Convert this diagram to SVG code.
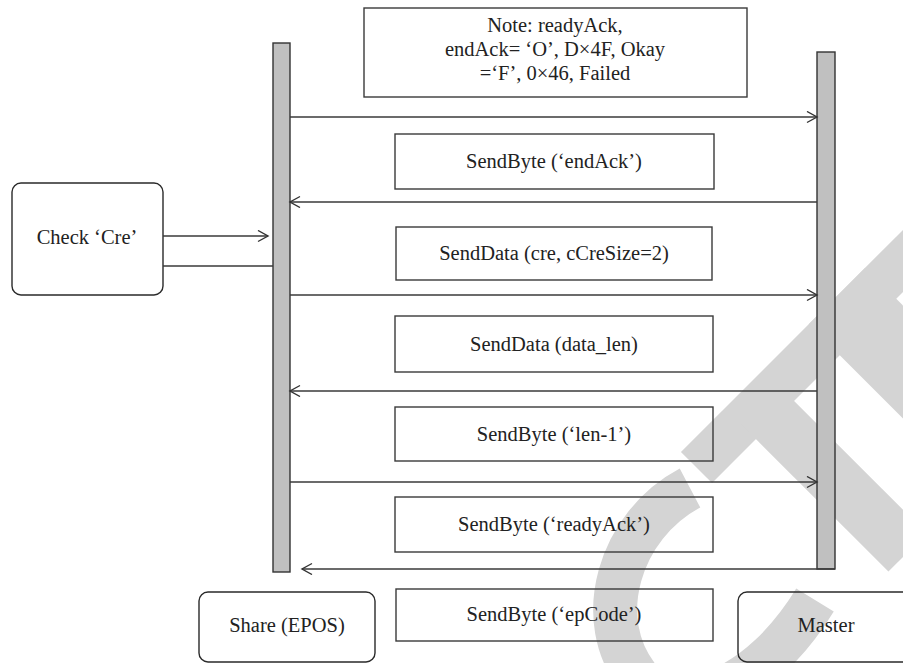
<svg xmlns="http://www.w3.org/2000/svg" width="903" height="663" viewBox="0 0 903 663">
<style>
.wm{fill:none;stroke:#d4d4d4;stroke-linecap:butt}
.box{fill:none;stroke:#3a3a3a;stroke-width:1.4}
.node{fill:none;stroke:#2a2a2a;stroke-width:1.4}
.bar{fill:#c0c0c0;stroke:#333;stroke-width:1.4}
.ln{fill:none;stroke:#3a3a3a;stroke-width:1.4}
.t{font-family:"Liberation Serif","Times New Roman",serif;font-size:20.5px;fill:#222;text-anchor:middle}
</style>
<defs>
<marker id="ah" markerUnits="userSpaceOnUse" markerWidth="14" markerHeight="14" refX="11" refY="6" orient="auto">
<path d="M1,0.5 L11,6 L1,11.5" fill="none" stroke="#333" stroke-width="1.4"/>
</marker>
</defs>
<rect width="903" height="663" fill="#fff"/>
<g id="watermark">
<path class="wm" stroke-width="44" d="M690,488 C620,525 590,620 640,680 C680,720 760,690 815,600"/>
<path class="wm" stroke-width="44" d="M696.5,467.5 L960,204"/>
<path class="wm" stroke-width="54" d="M759.5,404.5 L907.5,552.5"/>
<path class="wm" stroke-width="80" d="M837,296 L1000,459"/>
</g>
<g id="lifeline-share"><rect class="bar" x="273" y="43" width="17" height="529"/></g>
<g id="lifeline-master"><rect class="bar" x="817" y="52" width="18" height="517"/></g>
<g id="note">
<rect class="box" x="364" y="8" width="383" height="89"/>
<text class="t" x="555" y="31.5">Note: readyAck,</text>
<text class="t" x="555" y="56">endAck= ‘O’, D×4F, Okay</text>
<text class="t" x="555" y="80">=‘F’, 0×46, Failed</text>
</g>
<g id="msg1"><rect class="box" x="395" y="134" width="319" height="55"/><text class="t" x="554" y="168">SendByte (‘endAck’)</text></g>
<g id="msg2"><rect class="box" x="396" y="227" width="316" height="53"/><text class="t" x="554" y="260">SendData (cre, cCreSize=2)</text></g>
<g id="msg3"><rect class="box" x="395" y="316" width="318" height="56"/><text class="t" x="554" y="350.5">SendData (data_len)</text></g>
<g id="msg4"><rect class="box" x="395" y="407" width="318" height="54"/><text class="t" x="554" y="440.5">SendByte (‘len-1’)</text></g>
<g id="msg5"><rect class="box" x="395" y="497" width="318" height="55"/><text class="t" x="554" y="531">SendByte (‘readyAck’)</text></g>
<g id="msg6"><rect class="box" x="396" y="589" width="317" height="52"/><text class="t" x="554" y="621">SendByte (‘epCode’)</text></g>
<g id="check"><rect class="node" x="12" y="183" width="151" height="112" rx="9"/><text class="t" x="87" y="244">Check ‘Cre’</text></g>
<g id="share"><rect class="node" x="199" y="592" width="176" height="70" rx="9"/><text class="t" x="287" y="632">Share (EPOS)</text></g>
<g id="master"><rect class="node" x="738" y="592" width="176" height="70" rx="9"/><text class="t" x="826" y="632">Master</text></g>
<g id="connectors">
<line class="ln" x1="290" y1="117" x2="817" y2="117" marker-end="url(#ah)"/>
<line class="ln" x1="817" y1="202" x2="290" y2="202" marker-end="url(#ah)"/>
<line class="ln" x1="290" y1="295" x2="817" y2="295" marker-end="url(#ah)"/>
<line class="ln" x1="817" y1="391" x2="290" y2="391" marker-end="url(#ah)"/>
<line class="ln" x1="290" y1="482" x2="817" y2="482" marker-end="url(#ah)"/>
<line class="ln" x1="835" y1="569" x2="302" y2="569" marker-end="url(#ah)"/>
<line class="ln" x1="163" y1="236" x2="268" y2="236" marker-end="url(#ah)"/>
<line class="ln" x1="163" y1="266" x2="273" y2="266"/>
</g>
</svg>
